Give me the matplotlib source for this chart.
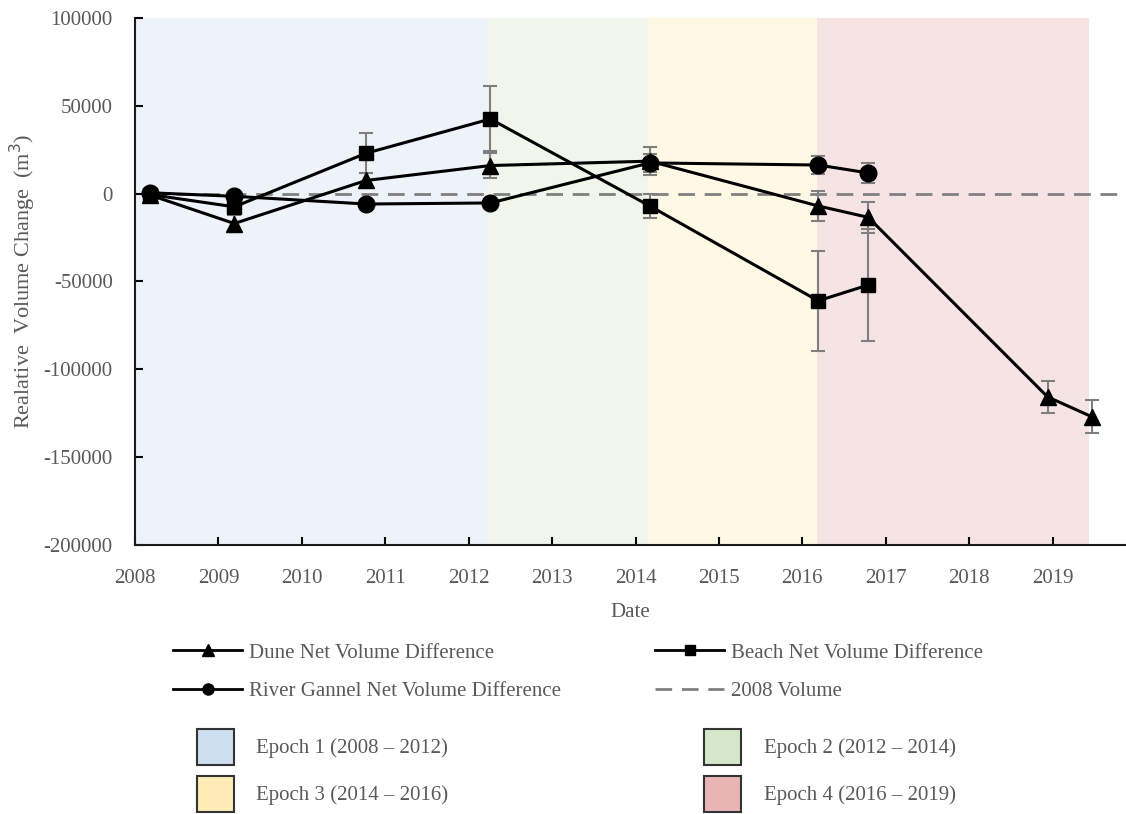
import matplotlib
matplotlib.use("Agg")
import matplotlib.pyplot as plt
from matplotlib.lines import Line2D
from matplotlib.patches import Patch

plt.rcParams["font.family"] = ["Liberation Serif", "DejaVu Serif"]
plt.rcParams["axes.unicode_minus"] = False

# survey dates (decimal years)
dune_dates = [2008.18, 2009.19, 2010.77, 2012.26, 2014.17, 2016.19, 2016.79, 2018.94, 2019.47]
dune_vol = [-800, -17000, 7500, 16000, 18500, -7000, -13500, -115700, -127000]
dune_err = [0, 5000, 4500, 7000, 8000, 8500, 9000, 9000, 9500]

beach_dates = [2008.18, 2009.19, 2010.77, 2012.26, 2014.17, 2016.19, 2016.79]
beach_vol = [-500, -7500, 23000, 42500, -7000, -61000, -52000]
beach_err = [0, 3000, 11500, 18500, 7000, 28500, 32000]

river_dates = [2008.18, 2009.19, 2010.77, 2012.26, 2014.17, 2016.19, 2016.79]
river_vol = [500, -1500, -5900, -5300, 17500, 16300, 11800]
river_err = [0, 1500, 1500, 1500, 5000, 5000, 5500]

baseline_x = [2008.18, 2019.9]
baseline_y = [0, 0]

epoch_labels = ["Epoch 1 (2008 \u2013 2012)", "Epoch 2 (2012 \u2013 2014)",
                "Epoch 3 (2014 \u2013 2016)", "Epoch 4 (2016 \u2013 2019)"]
epoch_start = [2008.0, 2012.22, 2014.15, 2016.17]
epoch_end = [2012.22, 2014.15, 2016.17, 2019.44]
epoch_colors = ["#CDDFF0", "#D5E7CB", "#FEEBB5", "#E8B4B4"]

year_ticks = list(range(2008, 2020))
y_ticks = [100000, 50000, 0, -50000, -100000, -150000, -200000]

TXT = "#595959"
ERR = "#7f7f7f"
FS = 15

fig = plt.figure(figsize=(11.26, 8.14), dpi=100)
ax = fig.add_axes([0.1199, 0.3305, 0.8801, 0.6474])

for s, e, c in zip(epoch_start, epoch_end, epoch_colors):
    ax.axvspan(s, e, color=c, alpha=0.35, lw=0, zorder=0)

ax.plot(baseline_x, baseline_y, color="#808080", lw=2, ls=(0, (6, 3.5)), zorder=1)

err_kw = dict(ecolor=ERR, elinewidth=1.5, capsize=5, capthick=1.5, color="black", lw=2.2, zorder=3)
ax.errorbar(river_dates, river_vol, yerr=river_err, marker="o", ms=12, **err_kw)
ax.errorbar(beach_dates, beach_vol, yerr=beach_err, marker="s", ms=10.5, **err_kw)
ax.errorbar(dune_dates, dune_vol, yerr=dune_err, marker="^", ms=12, **err_kw)

ax.set_xlim(2008, 2019.88)
ax.set_ylim(-200000, 100000)
ax.set_xticks(year_ticks)
ax.set_yticks(y_ticks)
ax.tick_params(direction="in", length=6, width=1.5, labelsize=FS, labelcolor=TXT)
ax.tick_params(axis="y", pad=16)
ax.tick_params(axis="x", pad=17)
for side in ["top", "right"]:
    ax.spines[side].set_visible(False)
for side in ["left", "bottom"]:
    ax.spines[side].set_linewidth(1.5)
    ax.spines[side].set_color("#1a1a1a")

ax.set_xlabel("Date", fontsize=FS, color=TXT, labelpad=11)
ax.set_ylabel("Realative  Volume Change  (m$^3$)", fontsize=16, color=TXT)
ax.yaxis.set_label_coords(-0.098, 0.5)

# legend entries placed like the original layout
line_handles = [
    (Line2D([], [], color="black", lw=2, marker="^", ms=8), "Dune Net Volume Difference", 0.154, 0.1978),
    (Line2D([], [], color="black", lw=2, marker="s", ms=7), "Beach Net Volume Difference", 0.582, 0.1978),
    (Line2D([], [], color="black", lw=2, marker="o", ms=8), "River Gannel Net Volume Difference", 0.154, 0.151),
    (Line2D([], [], color="#808080", lw=2, ls=(0, (6, 3.5))), "2008 Volume", 0.582, 0.151),
]
for h, lab, x, y in line_handles:
    fig.legend(handles=[h], labels=[lab], loc="center left", bbox_to_anchor=(x, y),
               frameon=False, fontsize=FS, labelcolor=TXT, handlelength=3.3,
               handletextpad=0.35, borderpad=0, borderaxespad=0)

patch_pos = [(0.175, 0.0823), (0.6255, 0.0823), (0.175, 0.0246), (0.6255, 0.0246)]
for lab, c, (x, y) in zip(epoch_labels, epoch_colors, patch_pos):
    fig.legend(handles=[Patch(facecolor=c, edgecolor="#333333", lw=1.5)], labels=[lab],
               loc="center left", bbox_to_anchor=(x, y), frameon=False, fontsize=FS,
               labelcolor=TXT, handlelength=1.75, handleheight=2.3, handletextpad=1.1,
               borderpad=0, borderaxespad=0)

fig.savefig("out.png", dpi=100)
